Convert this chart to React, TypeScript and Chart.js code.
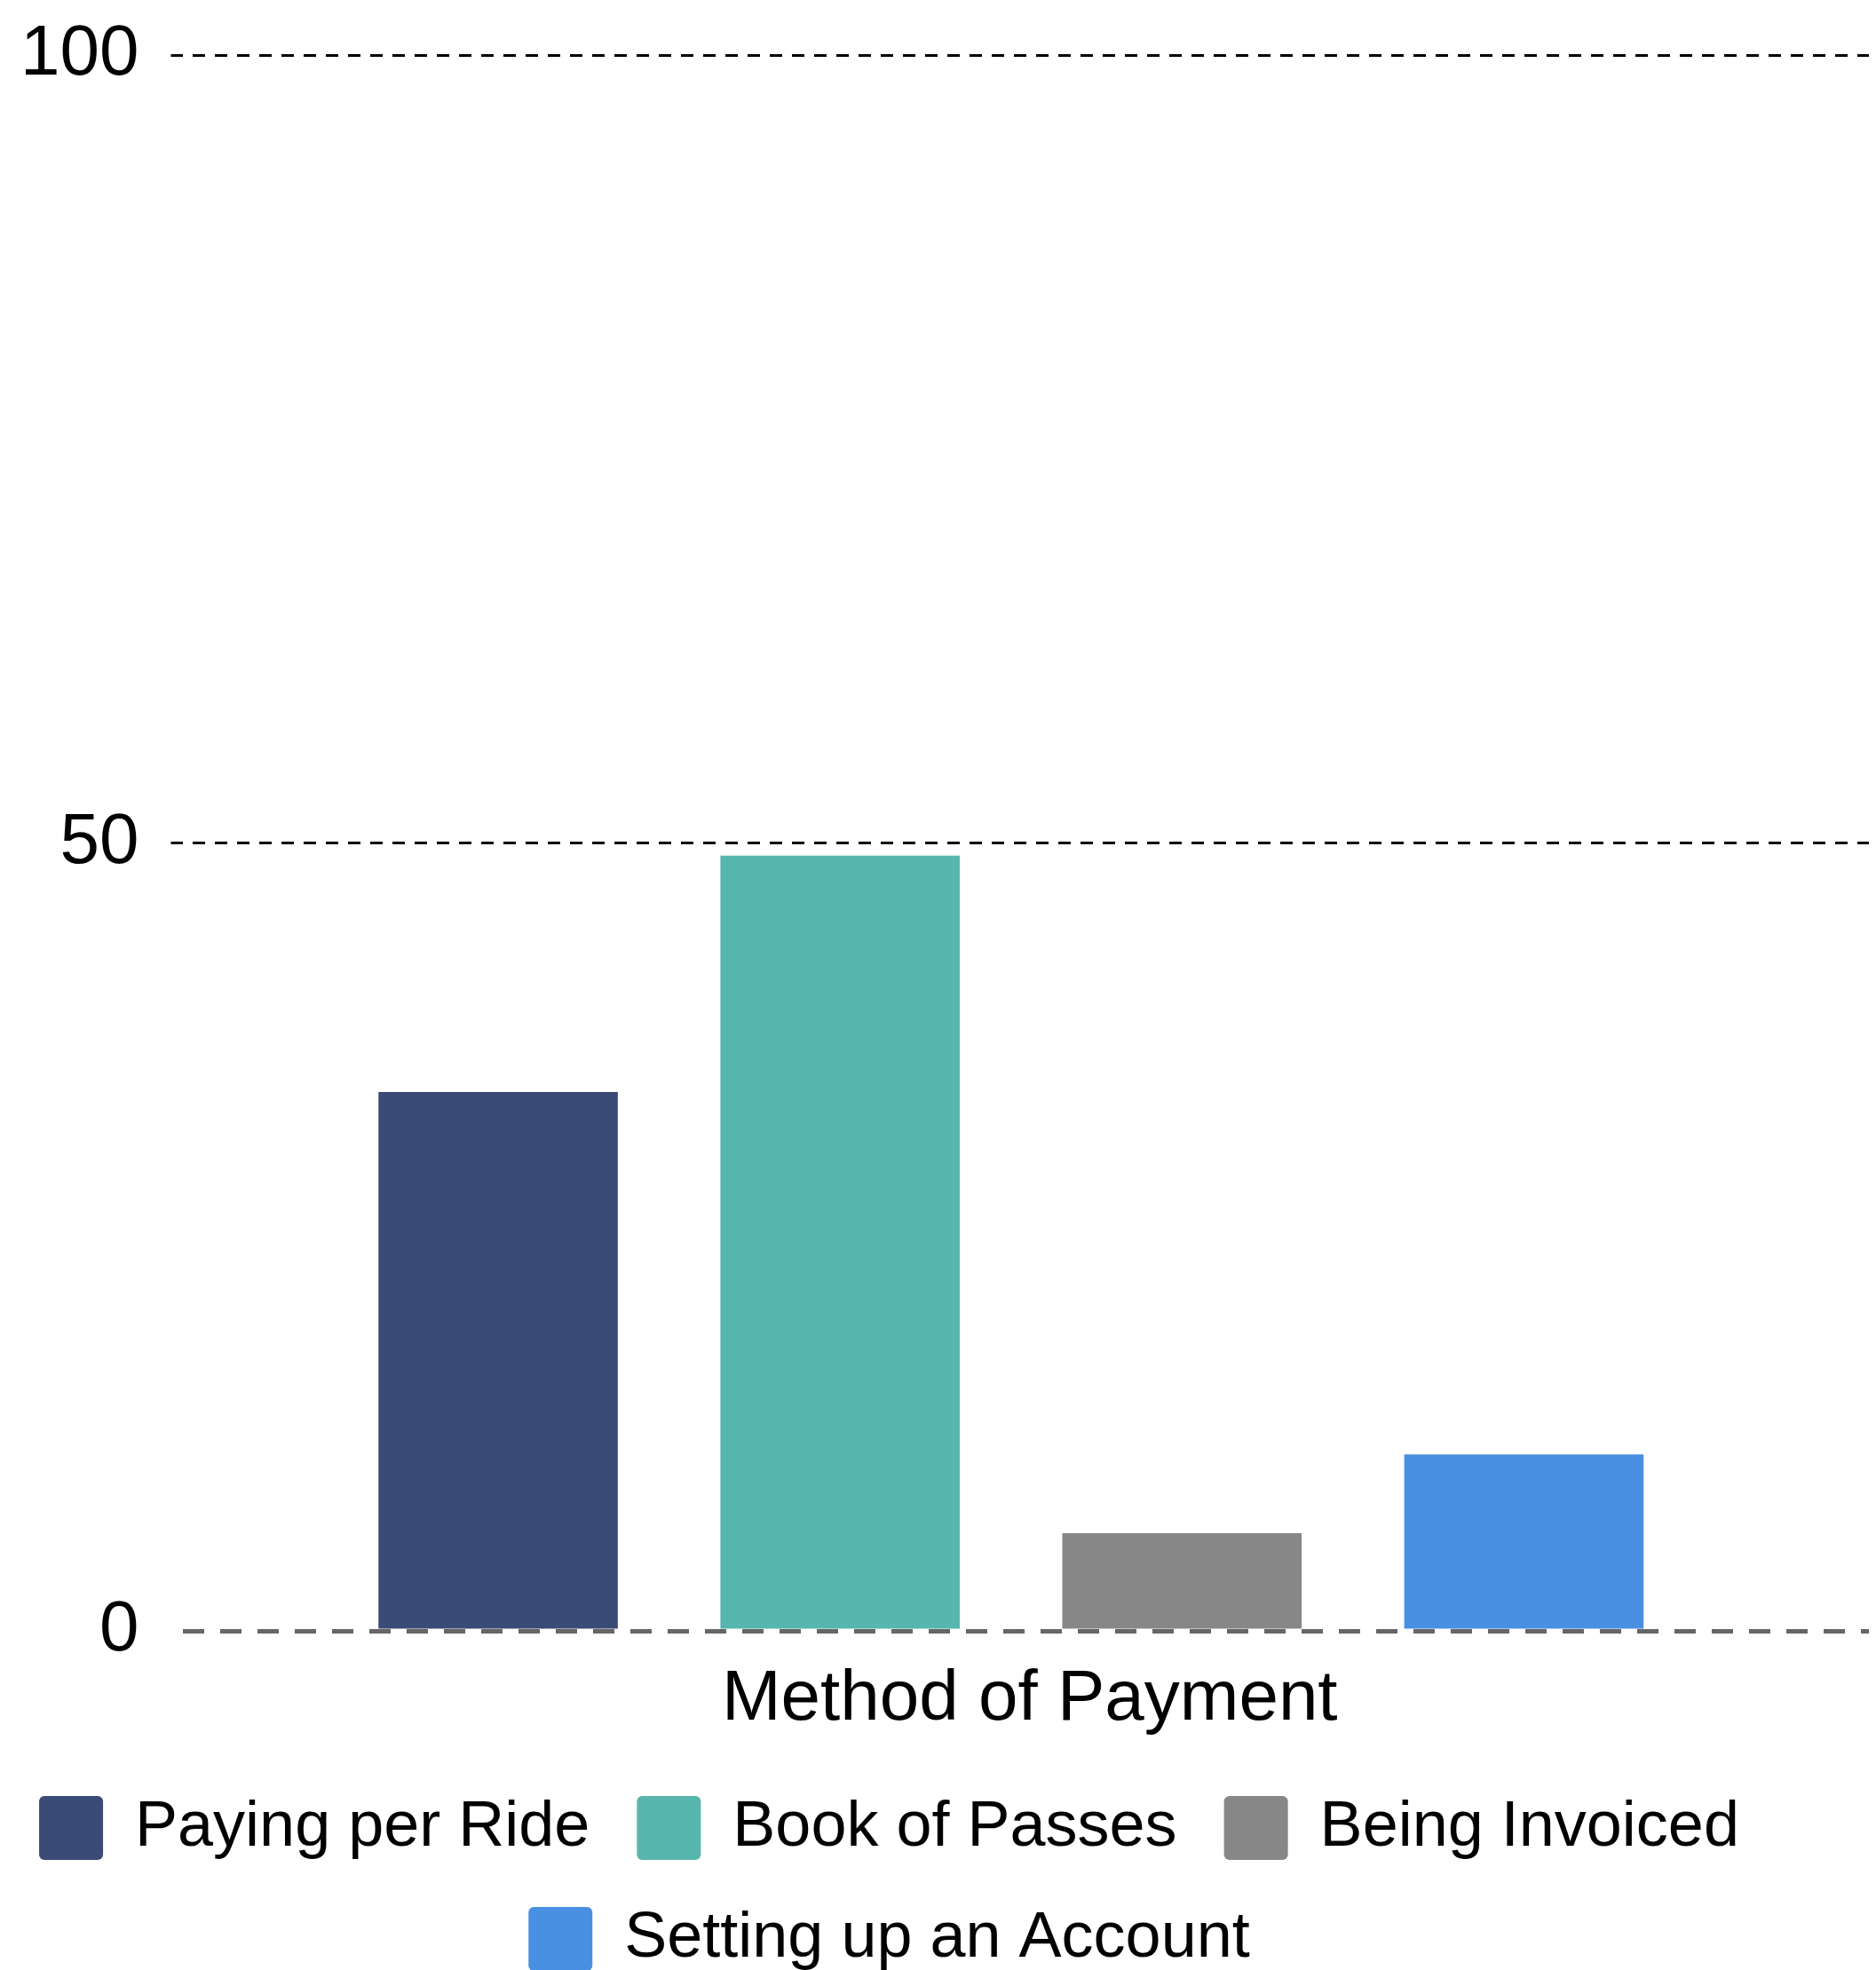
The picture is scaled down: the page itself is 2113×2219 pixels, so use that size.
import React, { useEffect, useRef } from 'react';
import { Chart, registerables } from 'chart.js';

Chart.register(...registerables);

// ---- data ----
const categories = [''];
const seriesNames = ['Paying per Ride', 'Book of Passes', 'Being Invoiced', 'Setting up an Account'];
const seriesValues = [34.2, 49.2, 6.2, 11.2];
const seriesColors = ['#3a4b75', '#57b6ad', '#878787', '#4a90e2'];
const yTickValues = [0, 50, 100];
const xAxisTitle = 'Method of Payment';

// ---- style ----
const FONT = "'Liberation Sans', Arial, Helvetica, sans-serif";
const LEGEND_SHIFT = 66;
const BAR_GROUP_SHIFT = 21;
const Y_TICK_PADDING = 36;

// layout nudges: legend block and bar group sit slightly left of centre in the reference
const layoutNudgePlugin = {
  id: 'layoutNudge',
  afterLayout(chart: any) {
    const lg = chart.legend;
    if (lg) {
      lg.left -= LEGEND_SHIFT;
      lg.right -= LEGEND_SHIFT;
    }
    const xs = chart.scales && chart.scales.x;
    if (xs) {
      xs._startPixel -= BAR_GROUP_SHIFT;
      xs._endPixel -= BAR_GROUP_SHIFT;
    }
  },
};

const isZero = (c: any) => c && c.tick && c.tick.value === 0;

export default function App() {
  const canvasRef = useRef<HTMLCanvasElement | null>(null);

  useEffect(() => {
    document.documentElement.style.overflow = 'hidden';
    document.body.style.overflow = 'hidden';
    const canvas = canvasRef.current;
    if (!canvas) return;
    const chart = new Chart(canvas, {
      type: 'bar',
      data: {
        labels: categories,
        datasets: seriesNames.map((name, i) => ({
          label: name,
          data: [seriesValues[i]],
          backgroundColor: seriesColors[i],
          borderColor: seriesColors[i],
          borderWidth: 0,
          categoryPercentage: 0.808,
          barPercentage: 0.7,
        })),
      },
      options: {
        animation: false,
        responsive: true,
        maintainAspectRatio: false,
        layout: { padding: { top: 54, left: 14, right: 0, bottom: 0 } },
        plugins: {
          legend: {
            position: 'bottom',
            labels: {
              font: { family: FONT, size: 72 },
              color: '#000',
              boxWidth: 72,
              boxHeight: 72,
              padding: 53,
              useBorderRadius: true,
              borderRadius: 6,
            },
          },
          tooltip: { enabled: false },
          title: { display: false },
        },
        scales: {
          x: {
            type: 'category',
            grid: { display: false, drawTicks: false },
            border: { display: false },
            ticks: { display: false },
            title: {
              display: true,
              text: xAxisTitle,
              color: '#000',
              font: { family: FONT, size: 80 },
              padding: { top: 30, bottom: 7 },
            },
          },
          y: {
            min: 0,
            max: 100,
            afterBuildTicks: (scale: any) => {
              scale.ticks = yTickValues.map((v) => ({ value: v }));
            },
            afterFit: (scale: any) => {
              scale.width -= Y_TICK_PADDING - 1;
              scale.paddingTop = 0;
              scale.paddingBottom = 0;
            },
            ticks: {
              color: '#000',
              font: { family: FONT, size: 80 },
              padding: Y_TICK_PADDING,
            },
            grid: {
              color: (c: any) => (isZero(c) ? '#666666' : '#000000'),
              lineWidth: (c: any) => (isZero(c) ? 5 : 3),
              drawTicks: true,
              tickLength: 14,
              tickWidth: 3,
              tickColor: (c: any) => (isZero(c) ? 'rgba(0,0,0,0)' : '#000000'),
              tickBorderDash: [14, 11],
            },
            border: {
              display: false,
              dash: (c: any) => (isZero(c) ? [24, 18] : [14, 11]),
              dashOffset: (c: any) => (isZero(c) ? 0 : 14),
            },
          },
        },
      },
      plugins: [layoutNudgePlugin],
    } as any);
    return () => chart.destroy();
  }, []);

  return (
    <div style={{ marginRight: -8 }}>
      <div style={{ position: 'relative', width: '100%', height: 2222 }}>
        <canvas ref={canvasRef} />
      </div>
    </div>
  );
}
